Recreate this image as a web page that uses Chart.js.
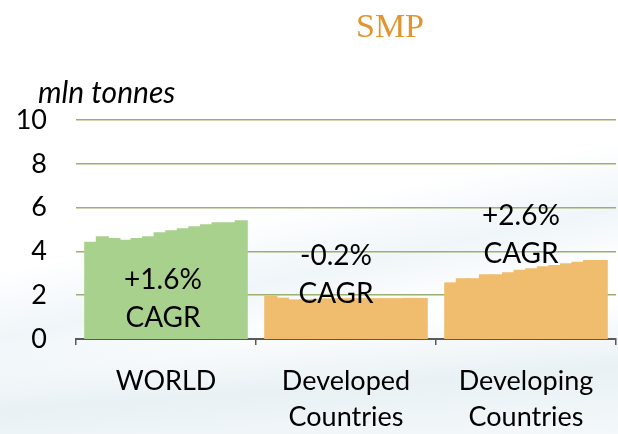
<!DOCTYPE html>
<html>
<head>
<meta charset="utf-8">
<title>SMP</title>
<script src="https://cdn.jsdelivr.net/npm/chart.js@4.4.1/dist/chart.umd.min.js"></script>
<style>
  html, body { margin: 0; padding: 0; }
  body {
    width: 618px;
    height: 434px;
    background:
      linear-gradient(168deg, rgba(255,255,255,0) 48%, rgba(226,238,244,0.55) 60%, rgba(255,255,255,0) 70%),
      linear-gradient(176deg, #ffffff 72%, #e9f1f5 86%, #f4f8fa 100%);
  }
  #wrap { position: relative; width: 618px; height: 434px; }
</style>
</head>
<body>
<div id="wrap"><canvas id="smpChart"></canvas></div>
<script>
// categories on the x axis
var categories = ['WORLD', ['Developed', 'Countries'], ['Developing', 'Countries']];
// one bar per year inside each group
var years = [2000, 2001, 2002, 2003, 2004, 2005, 2006, 2007, 2008, 2009, 2010, 2011, 2012, 2013];
// mln tonnes
var worldValues = [4.40, 4.66, 4.57, 4.49, 4.57, 4.66, 4.84, 4.93, 5.02, 5.11, 5.20, 5.30, 5.30, 5.39];
var developedValues = [1.95, 1.85, 1.77, 1.78, 1.80, 1.82, 1.83, 1.83, 1.83, 1.83, 1.83, 1.83, 1.84, 1.84];
var developingValues = [2.55, 2.74, 2.74, 2.92, 2.92, 3.01, 3.13, 3.19, 3.28, 3.34, 3.42, 3.49, 3.57, 3.57];
// growth labels and where they sit (value of first line)
var cagrTexts = ['+1.6%', '-0.2%', '+2.6%'];
var cagrLevels = [2.7, 3.8, 5.6];
var yTickValues = [0, 2, 4, 6, 8, 10];

var green = '#A9D18E';
var orange = '#F0BD6E';
var labelFont = 'Lato, "Open Sans", sans-serif';

var datasets = years.map(function(yr, i) {
    return {
        label: String(yr),
        data: [worldValues[i], developedValues[i], developingValues[i]],
        backgroundColor: [green, orange, orange],
        borderWidth: 0,
        inflateAmount: 0.8,
        barPercentage: 1.0,
        categoryPercentage: 0.9
    };
});

// draws the CAGR notes, the title and the unit
var notesPlugin = {
    id: 'notes',
    afterDraw: function(chart) {
        var ctx = chart.ctx;
        var xs = chart.scales.x;
        var ys = chart.scales.y;
        ctx.save();
        ctx.fillStyle = '#000';
        ctx.textAlign = 'center';
        ctx.textBaseline = 'middle';
        ctx.font = '28px ' + labelFont;
        var shift = [-3, -10, -5];
        cagrTexts.forEach(function(txt, i) {
            var x = xs.getPixelForValue(i) + shift[i];
            var y = ys.getPixelForValue(cagrLevels[i]);
            ctx.fillText(txt, x, y);
            ctx.fillText('CAGR', x, y + 38);
        });

        ctx.textAlign = 'left';
        ctx.font = 'italic 30px ' + labelFont;
        ctx.fillText('mln tonnes', 38, 93);

        ctx.textAlign = 'center';
        ctx.fillStyle = '#E0952F';
        ctx.font = '34px "Liberation Serif", "DejaVu Serif", serif';
        ctx.fillText('SMP', 390, 28);
        ctx.restore();
    }
};

var ctx = document.getElementById('smpChart').getContext('2d');

var myChart = new Chart(ctx, {
    type: 'bar',
    data: {
        labels: categories,
        datasets: datasets
    },
    options: {
        responsive: true,
        maintainAspectRatio: false,
        animation: false,
        layout: {
            padding: { top: 120, right: 2, left: 0, bottom: 0 }
        },
        plugins: {
            legend: { display: false },
            tooltip: { enabled: false },
            title: { display: false }
        },
        scales: {
            x: {
                afterFit: function(scale) { scale.height = 95; },
                grid: {
                    display: true,
                    drawOnChartArea: false,
                    drawTicks: true,
                    tickLength: 6,
                    color: '#595959',
                    lineWidth: 1.5,
                    offset: true
                },
                border: { display: true, color: '#595959', width: 2 },
                ticks: {
                    color: '#000',
                    padding: 18,
                    maxRotation: 0,
                    font: { family: labelFont, size: 27, lineHeight: 1.333 }
                }
            },
            y: {
                min: 0,
                max: 10,
                afterFit: function(scale) { scale.width = 76; },
                afterBuildTicks: function(scale) {
                    scale.ticks = yTickValues.map(function(v) { return { value: v }; });
                },
                grid: {
                    color: '#9BB06E',
                    lineWidth: 1.5,
                    drawTicks: false
                },
                border: { display: false },
                ticks: {
                    color: '#000',
                    padding: 29,
                    font: { family: labelFont, size: 27 }
                }
            }
        }
    },
    plugins: [notesPlugin]
});
</script>
</body>
</html>
